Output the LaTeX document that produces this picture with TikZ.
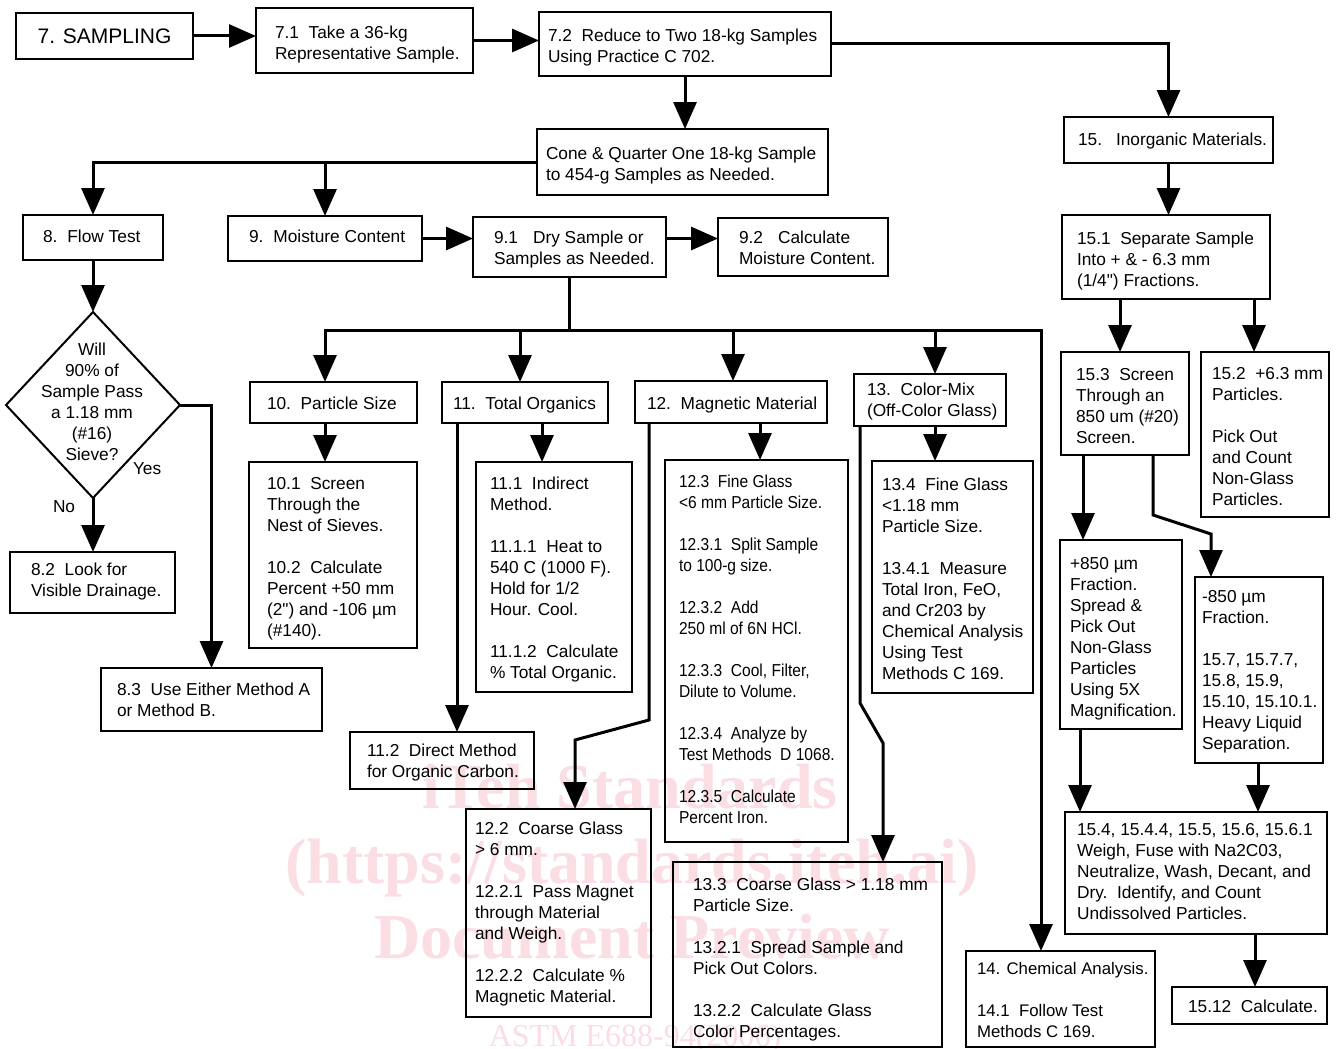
\documentclass[tikz,border=0pt]{standalone}
\usepackage{fontspec}
\setmainfont{Liberation Sans}
\newfontfamily\condfont[FakeStretch=0.9]{Liberation Sans}
\newfontfamily\qfont{Liberation Sans}
\newfontfamily\wmfont{Liberation Serif}
\usetikzlibrary{arrows.meta,shapes.geometric}
\definecolor{wm}{RGB}{250,222,228}
\tikzset{
 bx/.style={draw, line width=2pt, inner sep=0pt, outer sep=0pt, anchor=north west},
 tx/.style={inner sep=0pt, outer sep=0pt, anchor=north west, align=left, font=\fontsize{17.3}{21}\selectfont},
 ln/.style={line width=3pt},
 ar/.style={line width=3pt, -{Triangle[width=23pt,length=27pt]}},
 wmk/.style={text=wm, inner sep=0pt, anchor=base, font=\wmfont\bfseries\fontsize{64}{70}\selectfont}
}
\newcommand\Bx[5]{\node[bx, minimum width={(#4)-(#2)}, minimum height={(#5)-(#3)}] (#1) at (#2,#3) {};}
\newcommand\Tx[4]{\node[tx] (#1) at (#2,#3) {#4};}
\newcommand\dq{{\qfont"}}
\begin{document}
\begin{tikzpicture}[x=1pt,y=-1pt]
\fill[white] (0,0) rectangle (1336,1049);
\useasboundingbox (0,0) rectangle (1336,1049);
% watermark
\node[wmk] (wm1) at (630,808) {iTeh Standards};
\node[wmk] (wm2) at (632,883) {(https://standards.iteh.ai)};
\node[wmk] (wm3) at (632,958) {Document Preview};
\node[wmk, font=\wmfont\fontsize{32}{36}\selectfont] (wm4) at (635,1046) {ASTM E688-94(2006)};
% boxes
\Bx{s7}{16}{13}{193}{59}
\node[inner sep=0pt, font=\fontsize{21}{25}\selectfont] (s7t) at (s7.center) {7. SAMPLING};
\Bx{s71}{256}{8}{473}{73}
\Tx{s71t}{275}{26}{7.1~~Take a 36-kg\\Representative Sample.}
\Bx{s72}{539}{12}{831}{76}
\Tx{s72t}{548}{29}{7.2~~Reduce to Two 18-kg Samples\\Using Practice C 702.}
\Bx{cone}{537}{129}{828}{195}
\Tx{conet}{546}{147}{Cone \& Quarter One 18-kg Sample\\to 454-g Samples as Needed.}
\Bx{s15}{1064}{117}{1273}{163}
\Tx{s15t}{1078}{133}{15.\hspace{14pt}Inorganic Materials.}
\Bx{s151}{1062}{215}{1270}{299}
\Tx{s151t}{1077}{232}{15.1~~Separate Sample\\Into + \& - 6.3 mm\\(1/4\dq) Fractions.}
\Bx{s153}{1061}{352}{1189}{455}
\Tx{s153t}{1076}{368}{15.3~~Screen\\Through an\\850 um (\#20)\\Screen.}
\Bx{s152}{1201}{352}{1329}{517}
\Tx{s152t}{1212}{367}{15.2~~+6.3 mm\\Particles.\\[21pt]Pick Out\\and Count\\Non-Glass\\Particles.}
\Bx{p850}{1060}{540}{1182}{729}
\Tx{p850t}{1070}{557}{+850 µm\\Fraction.\\Spread \&\\Pick Out\\Non-Glass\\Particles\\Using 5X\\Magnification.}
\Bx{m850}{1195}{577}{1323}{763}
\Tx{m850t}{1202}{590}{-850 µm\\Fraction.\\[21pt]15.7, 15.7.7,\\15.8, 15.9,\\15.10, 15.10.1.\\Heavy Liquid\\Separation.}
\Bx{s154}{1065}{812}{1327}{934}
\Tx{s154t}{1077}{823}{15.4, 15.4.4, 15.5, 15.6, 15.6.1\\Weigh, Fuse with Na2C03,\\Neutralize, Wash, Decant, and\\Dry.~~Identify, and Count\\Undissolved Particles.}
\Bx{s1512}{1172}{987}{1327}{1024}
\Tx{s1512t}{1188}{1000}{15.12~~Calculate.}
\Bx{s8}{23}{215}{163}{260}
\Tx{s8t}{43}{230}{8.\hspace{10pt}Flow Test}
\Bx{s9}{228}{216}{422}{261}
\Tx{s9t}{249}{230}{9.\hspace{10pt}Moisture Content}
\Bx{s91}{473}{217}{666}{277}
\Tx{s91t}{494}{231}{9.1\hspace{15pt}Dry Sample or\\Samples as Needed.}
\Bx{s92}{718}{218}{888}{276}
\Tx{s92t}{739}{231}{9.2\hspace{15pt}Calculate\\Moisture Content.}
\node[draw, diamond, line width=2pt, minimum width=174pt, minimum height=186pt, inner sep=0pt, outer sep=0pt] (dia) at (93,405) {};
\node[tx, anchor=north, align=center] (diat) at (92,343) {Will\\90\% of\\Sample Pass\\a 1.18 mm\\(\#16)\\Sieve?};
\Tx{yes}{133}{463}{Yes}
\Tx{no}{53}{501}{No}
\Bx{s82}{10}{552}{175}{613}
\Tx{s82t}{31}{563}{8.2~~Look for\\Visible Drainage.}
\Bx{s83}{101}{668}{322}{731}
\Tx{s83t}{117}{683}{8.3~~Use Either Method A\\or Method B.}
\Bx{s10}{250}{382}{417}{423}
\Tx{s10t}{267}{397}{10.~~Particle Size}
\Bx{s101}{249}{462}{417}{648}
\Tx{s101t}{267}{477}{10.1~~Screen\\Through the\\Nest of Sieves.\\[21pt]10.2~~Calculate\\Percent +50 mm\\(2\dq) and -106 µm\\(\#140).}
\Bx{s11}{442}{382}{608}{423}
\Tx{s11t}{453}{397}{11.~~Total Organics}
\Bx{s111}{476}{462}{632}{692}
\Tx{s111t}{490}{477}{11.1~~Indirect\\Method.\\[21pt]11.1.1~~Heat to\\540 C (1000 F).\\Hold for 1/2\\Hour. Cool.\\[21pt]11.1.2~~Calculate\\\% Total Organic.}
\Bx{s112}{350}{732}{534}{789}
\Tx{s112t}{367}{744}{11.2~~Direct Method\\for Organic Carbon.}
\Bx{s12}{635}{381}{827}{423}
\Tx{s12t}{647}{397}{12.~~Magnetic Material}
\Bx{s123}{665}{460}{848}{842}
\node[tx, font=\condfont\fontsize{17.3}{21}\selectfont] (s123t) at (679,475) {12.3~~Fine Glass\\<6 mm Particle Size.\\[21pt]12.3.1~~Split Sample\\to 100-g size.\\[21pt]12.3.2~~Add\\250 ml of 6N HCl.\\[21pt]12.3.3~~Cool, Filter,\\Dilute to Volume.\\[21pt]12.3.4~~Analyze by\\Test Methods~~D 1068.\\[21pt]12.3.5~~Calculate\\Percent Iron.};
\Bx{s122}{466}{809}{651}{1017}
\Tx{s122t}{475}{822}{12.2~~Coarse Glass\\> 6 mm.\\[21pt]12.2.1~~Pass Magnet\\through Material\\and Weigh.\\[21pt]12.2.2~~Calculate \%\\Magnetic Material.}
\Bx{s13}{854}{374}{1006}{426}
\Tx{s13t}{867}{383}{13.~~Color-Mix\\(Off-Color Glass)}
\Bx{s134}{872}{461}{1033}{693}
\Tx{s134t}{882}{478}{13.4~~Fine Glass\\<1.18 mm\\Particle Size.\\[21pt]13.4.1~~Measure\\Total Iron, FeO,\\and Cr203 by\\Chemical Analysis\\Using Test\\Methods C 169.}
\Bx{s133}{673}{862}{942}{1047}
\Tx{s133t}{693}{878}{13.3~~Coarse Glass > 1.18 mm\\Particle Size.\\[21pt]13.2.1~~Spread Sample and\\Pick Out Colors.\\[21pt]13.2.2~~Calculate Glass\\Color Percentages.}
\Bx{s14}{966}{951}{1155}{1047}
\node[tx, font=\fontsize{16.8}{21}\selectfont] (s14t) at (977,962) {14. Chemical Analysis.\\[21pt]14.1~~Follow Test\\Methods C 169.};
% connectors
\draw[ar] (s7.east) -- (s7.east -| s71.west);
\draw[ar] (s71.east) -- (s71.east -| s72.west);
\draw[ar] (s72.east) -| (s15.north);
\draw[ar] (s72.south) -- (s72.south |- cone.north);
\draw[ar] (cone.west) -| (s8.north);
\draw[ar] (cone.west -| s9.north) -- (s9.north);
\draw[ar] (s8.south) -- (dia.north);
\draw[ar] (dia.south) -- (dia.south |- s82.north);
\draw[ar] (dia.east) -| (s83.north);
\draw[ar] (s9.east) -- (s9.east -| s91.west);
\draw[ar] (s9.east -| s91.east) -- (s9.east -| s92.west);
\coordinate (b10) at (325,330);
\coordinate (b11) at (520,330);
\coordinate (b12) at (733,330);
\coordinate (b13) at (935,330);
\coordinate (b14) at (1041,330);
\draw[ln] (s91.south) -- (s91.south |- b10);
\draw[ar] (b11) -| (b10 |- s10.north);
\draw[ln] (b11) -- (b13);
\draw[ar] (b13) -| (b14 |- s14.north);
\draw[ar] (b11) -- (b11 |- s11.north);
\draw[ar] (b12) -- (b12 |- s12.north);
\draw[ar] (b13) -- (b13 |- s13.north);
\draw[ar] (b10 |- s10.south) -- (b10 |- s101.north);
\coordinate (c11) at (542,0);
\draw[ar] (c11 |- s11.south) -- (c11 |- s111.north);
\coordinate (c112) at (457,0);
\draw[ar] (c112 |- s11.south) -- (c112 |- s112.north);
\coordinate (c123) at (760,0);
\draw[ar] (c123 |- s12.south) -- (c123 |- s123.north);
\coordinate (k1) at (649,720);
\coordinate (k2) at (575,740);
\draw[ar] (k1 |- s12.south) -- (k1) -- (k2) -- (k2 |- s122.north);
\coordinate (c134) at (935,0);
\draw[ar] (c134 |- s13.south) -- (c134 |- s134.north);
\coordinate (k3) at (860,703);
\coordinate (k4) at (883,743);
\draw[ar] (k3 |- s13.south) -- (k3) -- (k4) -- (k4 |- s133.north);
\draw[ar] (s15.south) -- (s15.south |- s151.north);
\coordinate (c153) at (1120,0);
\draw[ar] (c153 |- s151.south) -- (c153 |- s153.north);
\coordinate (c152) at (1254,0);
\draw[ar] (c152 |- s151.south) -- (c152 |- s152.north);
\coordinate (c850) at (1083,0);
\draw[ar] (c850 |- s153.south) -- (c850 |- p850.north);
\coordinate (k5) at (1153,515);
\coordinate (k6) at (1211,534);
\draw[ar] (k5 |- s153.south) -- (k5) -- (k6) -- (k6 |- m850.north);
\coordinate (c154a) at (1080,0);
\draw[ar] (c154a |- p850.south) -- (c154a |- s154.north);
\coordinate (c154b) at (1258,0);
\draw[ar] (c154b |- m850.south) -- (c154b |- s154.north);
\coordinate (c1512) at (1255,0);
\draw[ar] (c1512 |- s154.south) -- (c1512 |- s1512.north);
\end{tikzpicture}
\end{document}
